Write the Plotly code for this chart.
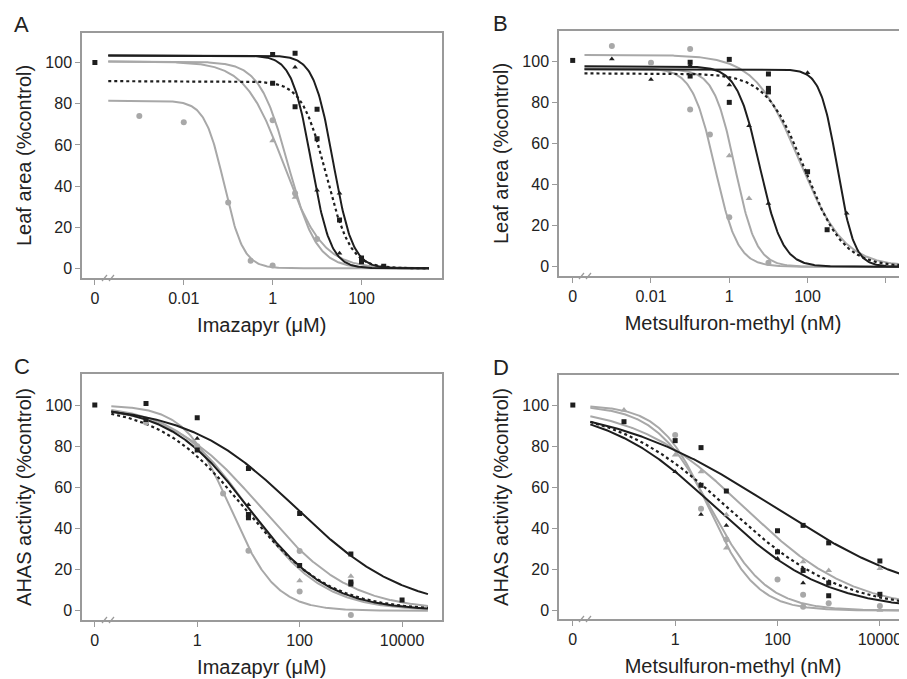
import numpy as np
import plotly.graph_objects as go

# the page body adds an 8px margin; the figure is sized to fill the rest
OFF = 8
W, H = 907 - OFF, 679 - OFF

# ---------------- data ----------------
# fitted dose-response curves: y = top / (1 + (dose/ec50)^slope)
CURVE_STYLE = ["black", "black", "dotted", "gray", "gray", "gray"]

A_top = [103.5, 103.5, 91.0, 100.5, 100.5, 81.5]
A_ec50 = [7.4, 23.0, 16.0, 2.24, 1.78, 0.081]
A_slope = [2.0, 2.0, 1.6, 1.35, 1.0, 2.0]
A_dose_range = [2e-4, 3300]

B_top = [97.5, 96.0, 94.0, 96.5, 96.0, 103.0]
B_ec50 = [6.0, 575.0, 86.0, 0.43, 1.41, 62.0]
B_slope = [1.5, 2.0, 0.88, 1.5, 1.6, 0.76]
B_dose_range = [2e-4, 1e5]

C_top = [100.0, 100.0, 100.0, 100.0, 100.0, 100.0]
C_ec50 = [85.0, 10.0, 8.3, 4.4, 10.0, 17.8]
C_slope = [0.41, 0.56, 0.52, 0.98, 0.6, 0.5]
C_dose_range = [0.021, 32000]

D_top = [102.0, 100.0, 100.0, 100.0, 100.0, 100.0]
D_ec50 = [79.0, 6.3, 10.7, 4.9, 4.5, 22.9]
D_slope = [0.27, 0.40, 0.39, 0.79, 0.93, 0.41]
D_dose_range = [0.022, 1e5]

# observed points (control plotted at the "0" position)
A_sq_x = [1e-4, 1, 1, 3.2, 3.2, 10, 10, 32, 100, 100, 316]
A_sq_y = [100, 104, 90, 104.5, 78.6, 77.3, 63, 23.5, 3.2, 5, 1]
A_tri_x = [3.2, 10, 32, 32]
A_tri_y = [97.8, 38, 36.5, 7.3]
A_gc_x = [0.001, 0.01, 0.1, 0.32, 1, 1, 3.2, 10]
A_gc_y = [74, 71, 32, 3.7, 1.4, 72, 36.5, 14.3]
A_gt_x = [1, 3.2]
A_gt_y = [62, 34.5]

B_sq_x = [1e-4, 0.1, 0.1, 1, 1, 10, 10, 10, 100, 316]
B_sq_y = [100.3, 99.4, 92.7, 100.8, 79.9, 93.7, 86.7, 85, 46.2, 18]
B_tri_x = [0.001, 0.01, 0.1, 1, 3.2, 10, 100, 1000]
B_tri_y = [101, 91, 98, 88.3, 68.6, 30.8, 94.3, 26]
B_gc_x = [0.001, 0.01, 0.1, 0.1, 0.32, 1, 10]
B_gc_y = [107.3, 99.2, 105.8, 76.5, 64.3, 24, 2]
B_gt_x = [1, 3.2]
B_gt_y = [54, 33.2]

C_sq_x = [0.01, 0.1, 0.1, 1, 1, 10, 10, 10, 100, 100, 1000, 1000, 1000, 10000]
C_sq_y = [100, 100.8, 93, 93.8, 78.1, 69.2, 46.8, 45.2, 47.3, 22, 27.6, 14, 13, 5.2]
C_tri_x = [1, 10]
C_tri_y = [83.8, 51.5]
C_gc_x = [0.1, 1, 3.2, 10, 100, 100, 1000]
C_gc_y = [91.5, 80, 57, 29.2, 9.4, 29, -2.1]
C_gt_x = [100, 1000]
C_gt_y = [14.6, 16.8]

D_sq_x = [0.01, 0.1, 1, 3.2, 3.2, 10, 100, 100, 316, 316, 1000, 1000, 1000, 10000, 10000]
D_sq_y = [100, 91.9, 82.7, 79.3, 61, 58.2, 38.9, 28.6, 41.5, 19.6, 33, 13.5, 7.3, 24.2, 8]
D_tri_x = [1, 3.2, 10, 100, 316]
D_tri_y = [67.6, 46.8, 41.5, 25.4, 13.5]
D_gc_x = [1, 3.2, 10, 100, 316, 316, 1000, 10000]
D_gc_y = [85.4, 49.6, 34.7, 15.2, 2, 7.8, 3.7, 2.3]
D_gt_x = [0.1, 1, 3.2, 10, 10, 316, 1000, 10000, 10000]
D_gt_y = [97.6, 75.7, 67.6, 46.7, 30.5, 23.8, 19.6, 20.6, 0.3]

A_xticks = [1e-4, 1e-2, 1, 100]
A_xlabels = ["0", "0.01", "1", "100"]
B_xticks = [1e-4, 1e-2, 1, 100, 1e4]
B_xlabels = ["0", "0.01", "1", "100", "10000"]
C_xticks = [1e-2, 1, 100, 1e4]
C_xlabels = ["0", "1", "100", "10000"]
D_xticks = [1e-2, 1, 100, 1e4]
D_xlabels = ["0", "1", "100", "10000"]
Y_TICKS = [0, 20, 40, 60, 80, 100]

PANEL_LETTERS = ["A", "B", "C", "D"]
X_TITLES = ["Imazapyr (μM)", "Metsulfuron-methyl (nM)", "Imazapyr (μM)", "Metsulfuron-methyl (nM)"]
Y_TITLES = ["Leaf area (%control)", "Leaf area (%control)", "AHAS activity (%control)", "AHAS activity (%control)"]

# ---------------- styling ----------------
BLACK = "#1e1e1e"
GRAY = "#a8a8a8"
FRAME = "#9a9a9a"
TEXT = "#222222"
FONT = "Arial, 'Liberation Sans', sans-serif"


def px_x(p):
    return (p - OFF) / W


def px_y(p):
    return 1 - (p - OFF) / H


# panel frame in screen pixels: left, right, top, bottom ; axis ranges
PANELS = [
    dict(l=82, r=441.5, t=33, b=278, xr=[-4.29, 3.80], yr=[-4.7, 114.4], full=True),
    dict(l=559, r=907, t=31, b=276, xr=[-4.35, 4.54], yr=[-4.5, 114.6], full=False),
    dict(l=82, r=441.5, t=374, b=620, xr=[-2.25, 4.77], yr=[-4.5, 115.1], full=True),
    dict(l=559, r=907, t=375, b=619, xr=[-2.27, 4.53], yr=[-4.0, 114.6], full=False),
]

curves = [
    (A_top, A_ec50, A_slope, A_dose_range),
    (B_top, B_ec50, B_slope, B_dose_range),
    (C_top, C_ec50, C_slope, C_dose_range),
    (D_top, D_ec50, D_slope, D_dose_range),
]
points = [
    (A_sq_x, A_sq_y, A_tri_x, A_tri_y, A_gc_x, A_gc_y, A_gt_x, A_gt_y),
    (B_sq_x, B_sq_y, B_tri_x, B_tri_y, B_gc_x, B_gc_y, B_gt_x, B_gt_y),
    (C_sq_x, C_sq_y, C_tri_x, C_tri_y, C_gc_x, C_gc_y, C_gt_x, C_gt_y),
    (D_sq_x, D_sq_y, D_tri_x, D_tri_y, D_gc_x, D_gc_y, D_gt_x, D_gt_y),
]
xticks = [(A_xticks, A_xlabels), (B_xticks, B_xlabels), (C_xticks, C_xlabels), (D_xticks, D_xlabels)]

fig = go.Figure()
layout = dict(
    width=W, height=H, margin=dict(l=0, r=0, t=0, b=0),
    paper_bgcolor="white", plot_bgcolor="white", showlegend=False,
    font=dict(family=FONT, color=TEXT, size=16),
)
shapes = []
annotations = []

for i, P in enumerate(PANELS):
    n = "" if i == 0 else str(i + 1)
    xa, ya = "x" + n, "y" + n
    top, ec50, slope, drange = curves[i]
    dose = np.logspace(np.log10(drange[0]), np.log10(drange[1]), 400)
    order = [3, 4, 5, 0, 1, 2]
    for k in order:
        y = top[k] / (1 + (dose / ec50[k]) ** slope[k])
        st = CURVE_STYLE[k]
        if st == "gray":
            line = dict(color=GRAY, width=2)
        elif st == "black":
            line = dict(color=BLACK, width=2)
        else:
            line = dict(color=BLACK, width=2.2, dash="3px,3px")
        fig.add_trace(go.Scatter(x=dose, y=y, mode="lines", line=line,
                                 xaxis=xa, yaxis=ya, hoverinfo="skip"))
    sx, sy, tx, ty, gcx, gcy, gtx, gty = points[i]
    fig.add_trace(go.Scatter(x=gcx, y=gcy, mode="markers", xaxis=xa, yaxis=ya,
                             marker=dict(symbol="circle", size=6, color=GRAY)))
    fig.add_trace(go.Scatter(x=gtx, y=gty, mode="markers", xaxis=xa, yaxis=ya,
                             marker=dict(symbol="triangle-up", size=6, color=GRAY)))
    fig.add_trace(go.Scatter(x=sx, y=sy, mode="markers", xaxis=xa, yaxis=ya,
                             marker=dict(symbol="square", size=5, color=BLACK)))
    fig.add_trace(go.Scatter(x=tx, y=ty, mode="markers", xaxis=xa, yaxis=ya,
                             marker=dict(symbol="triangle-up", size=5, color=BLACK)))

    tv, tt = xticks[i]
    layout["xaxis" + n] = dict(
        domain=[px_x(P["l"]), min(1.0, px_x(P["r"]))], anchor=ya, type="log",
        range=P["xr"], tickvals=tv, ticktext=tt, showgrid=False, zeroline=False,
        showline=True, linecolor=FRAME, linewidth=1.5, mirror=True,
        ticks="outside", ticklen=5, tickwidth=1.2, tickcolor=FRAME,
        tickfont=dict(size=16, color=TEXT),
        title=dict(text=X_TITLES[i], font=dict(size=20, color=TEXT), standoff=12),
        automargin=False,
    )
    layout["yaxis" + n] = dict(
        domain=[px_y(P["b"]), px_y(P["t"])], anchor=xa,
        range=P["yr"], tickvals=Y_TICKS, showgrid=False, zeroline=False,
        showline=True, linecolor=FRAME, linewidth=1.5, mirror=P["full"],
        ticks="outside", ticklen=5, tickwidth=1.2, tickcolor=FRAME,
        tickfont=dict(size=16, color=TEXT),
        title=dict(text=Y_TITLES[i], font=dict(size=20, color=TEXT), standoff=8),
        automargin=False,
    )
    # axis break marks
    bx = P["l"] + 20
    for dx in (0, 7):
        x0 = bx + dx
        shapes.append(dict(type="line", xref="paper", yref="paper",
                           x0=px_x(x0), y0=px_y(P["b"] + 3), x1=px_x(x0 + 5), y1=px_y(P["b"] - 3),
                           line=dict(color=FRAME, width=1.2)))
    # panel letter
    annotations.append(dict(text=PANEL_LETTERS[i], xref="paper", yref="paper",
                            x=px_x(12 if i % 2 == 0 else 491), y=px_y(P["t"] - 8),
                            xanchor="left", yanchor="middle", showarrow=False,
                            font=dict(size=22, color=TEXT, family=FONT)))

layout["shapes"] = shapes
layout["annotations"] = annotations
fig.update_layout(**layout)
fig.write_html("out.html")
